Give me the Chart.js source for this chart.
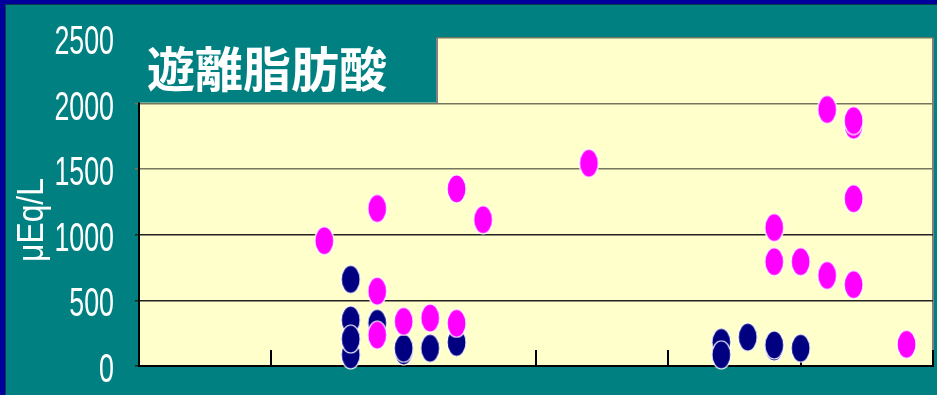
<!DOCTYPE html>
<html>
<head>
<meta charset="utf-8">
<script src="https://cdn.jsdelivr.net/npm/chart.js@4"></script>
<style>
  body { margin: 0; background: #00009c; width: 937px; height: 395px; overflow: hidden; }
  #wrap { position: absolute; left: 5px; top: 4px; width: 931px; height: 390px; background: #008080;
          border-left: 1px solid #0b3b4b; border-top: 1px solid #0b3b4b; }
  canvas { display: block; }
</style>
</head>
<body>
<div id="wrap"><canvas id="myChart" width="931" height="390"></canvas></div>
<script>
// Chart values
const chartTitle = '遊離脂肪酸';
const yAxisTitle = 'μEq/L';
const yTicks = [0, 500, 1000, 1500, 2000, 2500];
const xCategoryTicks = [0, 1, 2, 3, 4, 5, 6];

const navyX = [1.6, 1.6, 1.6, 1.6, 1.8, 2.0, 2.0, 2.2, 2.4, 4.4, 4.4, 4.6, 4.8, 4.8, 5.0];
const navyY = [660, 350, 85, 205, 325, 115, 135, 135, 180, 180, 85, 220, 145, 160, 135];

const magentaX = [1.4, 1.8, 1.8, 1.8, 2.0, 2.2, 2.4, 2.4, 2.6, 3.4, 4.8, 4.8, 5.0, 5.2, 5.2, 5.4, 5.4, 5.4, 5.4, 5.8];
const magentaY = [955, 1200, 570, 235, 340, 365, 1350, 325, 1115, 1545, 1055, 795, 795, 690, 1955, 1275, 620, 1835, 1870, 165];

const labelFont = "'Liberation Sans', Arial, sans-serif";

// Function to build an ellipse marker used as point style
function makeEllipse(fill) {
  const c = document.createElement('canvas');
  c.width = 21;
  c.height = 30;
  const g = c.getContext('2d');
  g.beginPath();
  g.ellipse(10.5, 15, 9.5, 14, 0, 0, Math.PI * 2);
  g.fillStyle = fill;
  g.fill();
  g.strokeStyle = '#ffffff';
  g.lineWidth = 1.2;
  g.stroke();
  return c;
}

// Function to zip x and y arrays into points
function toPoints(xs, ys) {
  return xs.map((x, i) => ({ x: x, y: ys[i] }));
}

// Squeeze the y tick labels sideways (narrow typeface look), keeping them right aligned
function narrowLabels(scale, squeeze, dy) {
  const orig = scale.drawLabels;
  scale.drawLabels = function (area) {
    const xr = this.right - 4 - this.options.ticks.padding;
    const ctx = this.ctx;
    ctx.save();
    ctx.translate(xr, dy);
    ctx.scale(squeeze, 1);
    ctx.translate(-xr, 0);
    orig.call(this, area);
    ctx.restore();
  };
}

// Plugin for the yellow plot background, the title cut-out and the axis title
const decorations = {
  id: 'decorations',
  afterLayout(chart) {
    if (!chart.scales.y._narrow) {
      narrowLabels(chart.scales.y, 0.67, 5);
      chart.scales.y._narrow = true;
    }
  },
  beforeDraw(chart) {
    const { ctx, chartArea: a } = chart;
    ctx.save();
    ctx.fillStyle = '#ffffcc';
    ctx.fillRect(a.left, a.top, a.right - a.left, a.bottom - a.top);
    ctx.strokeStyle = '#808080';
    ctx.lineWidth = 2;
    ctx.beginPath();
    ctx.moveTo(a.right, a.top);
    ctx.lineTo(a.right, a.bottom);
    ctx.stroke();
    ctx.restore();
  },
  afterDraw(chart) {
    const { ctx, scales } = chart;
    const y2000 = scales.y.getPixelForValue(2000);
    ctx.save();
    // teal box over the top-left of the plot
    ctx.fillStyle = '#008080';
    ctx.fillRect(128, 28, 303, y2000 - 28 - 1);
    ctx.strokeStyle = '#808080';
    ctx.lineWidth = 2;
    ctx.beginPath();
    ctx.moveTo(431, scales.y.top);
    ctx.lineTo(431, y2000);
    ctx.stroke();
    // title
    ctx.fillStyle = '#ffffff';
    ctx.font = "bold 48px 'Noto Sans CJK JP', sans-serif";
    ctx.textBaseline = 'middle';
    ctx.textAlign = 'left';
    ctx.fillText(chartTitle, 141, 64);
    // rotated y axis title
    ctx.translate(27, 215);
    ctx.rotate(-Math.PI / 2);
    ctx.scale(0.86, 1);
    ctx.font = '37px ' + labelFont;
    ctx.textAlign = 'center';
    ctx.fillText(yAxisTitle, 0, 0);
    ctx.restore();
  }
};

// Function to initialize the chart
function initializeChart() {
  const ctx = document.getElementById('myChart').getContext('2d');
  return new Chart(ctx, {
    type: 'scatter',
    data: {
      datasets: [
        {
          label: 'magenta',
          data: toPoints(magentaX, magentaY),
          pointStyle: makeEllipse('#ff00ff'),
          pointRadius: 10,
          clip: false
        },
        {
          label: 'navy',
          data: toPoints(navyX, navyY),
          pointStyle: makeEllipse('#000080'),
          pointRadius: 10,
          clip: false
        }
      ]
    },
    options: {
      responsive: false,
      animation: false,
      layout: { autoPadding: false, padding: { top: 33, right: 4, left: 0, bottom: 0 } },
      plugins: {
        legend: { display: false },
        tooltip: { enabled: false }
      },
      scales: {
        x: {
          type: 'linear',
          min: 0,
          max: 6,
          afterBuildTicks: (scale) => { scale.ticks = xCategoryTicks.map(v => ({ value: v })); },
          afterFit: (scale) => { scale.height = 29; },
          ticks: { display: false, padding: 0 },
          grid: {
            drawOnChartArea: false,
            tickLength: -16,
            color: '#000000',
            lineWidth: 2
          },
          border: { display: true, color: '#000000', width: 2 }
        },
        y: {
          min: 0,
          max: 2500,
          afterBuildTicks: (scale) => { scale.ticks = yTicks.map(v => ({ value: v })); },
          afterFit: (scale) => { scale.width = 133; },
          ticks: {
            color: '#ffffff',
            padding: 21,
            callback: (v) => String(v),
            font: { family: labelFont, size: 40, lineHeight: 0.4 }
          },
          grid: {
            tickLength: 4,
            lineWidth: 1.5,
            color: (c) => (c.tick && c.tick.value >= 1500 ? '#77775f' : '#222222')
          },
          border: { display: true, color: '#000000', width: 2 }
        }
      }
    },
    plugins: [decorations]
  });
}

const myChart = initializeChart();
</script>
</body>
</html>
